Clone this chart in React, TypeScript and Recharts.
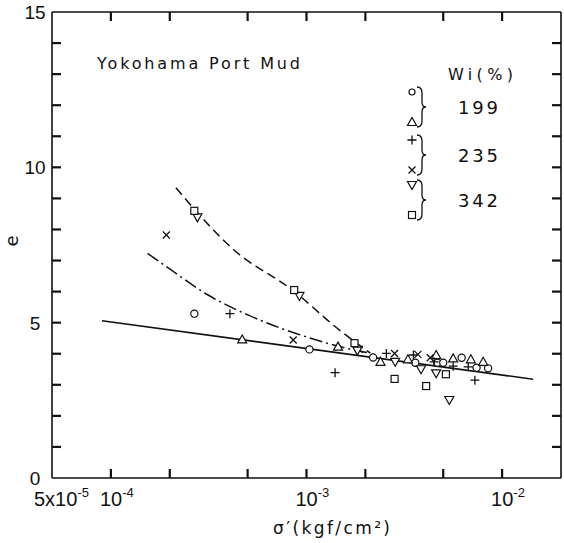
import { ComposedChart, Line, ReferenceLine, Scatter, XAxis, YAxis } from "recharts";

type Pt = { x: number; y: number };

// Wi = 199 %
const circleData: Pt[] = [
  { x: 2.67e-4, y: 5.29 }, { x: 1.035e-3, y: 4.14 }, { x: 2.19e-3, y: 3.88 }, { x: 3.6e-3, y: 3.71 },
  { x: 4.67e-3, y: 3.71 }, { x: 5.0e-3, y: 3.71 }, { x: 6.21e-3, y: 3.87 }, { x: 7.4e-3, y: 3.55 },
  { x: 8.48e-3, y: 3.53 },
];
const triangleData: Pt[] = [
  { x: 4.69e-4, y: 4.46 }, { x: 1.45e-3, y: 4.23 }, { x: 2.39e-3, y: 3.74 }, { x: 3.3e-3, y: 3.82 },
  { x: 4.6e-3, y: 3.96 }, { x: 5.62e-3, y: 3.85 }, { x: 6.92e-3, y: 3.82 }, { x: 8.0e-3, y: 3.74 },
];
// Wi = 235 %
const plusData: Pt[] = [
  { x: 4.06e-4, y: 5.29 }, { x: 1.4e-3, y: 3.39 }, { x: 2.56e-3, y: 4.01 }, { x: 3.52e-3, y: 3.96 },
  { x: 4.49e-3, y: 3.74 }, { x: 5.62e-3, y: 3.6 }, { x: 6.71e-3, y: 3.58 }, { x: 7.26e-3, y: 3.15 },
];
const crossData: Pt[] = [
  { x: 1.92e-4, y: 7.82 }, { x: 8.55e-4, y: 4.44 }, { x: 1.86e-3, y: 4.14 }, { x: 2.82e-3, y: 4.01 },
  { x: 3.71e-3, y: 3.98 }, { x: 4.29e-3, y: 3.87 },
];
// Wi = 342 %
const triDownData: Pt[] = [
  { x: 2.77e-4, y: 8.39 }, { x: 9.2e-4, y: 5.86 }, { x: 1.82e-3, y: 4.1 }, { x: 2.84e-3, y: 3.74 },
  { x: 3.85e-3, y: 3.5 }, { x: 4.6e-3, y: 3.37 }, { x: 5.37e-3, y: 2.51 },
];
const squareData: Pt[] = [
  { x: 2.67e-4, y: 8.6 }, { x: 8.65e-4, y: 6.05 }, { x: 1.76e-3, y: 4.34 }, { x: 2.82e-3, y: 3.19 },
  { x: 4.09e-3, y: 2.96 }, { x: 5.16e-3, y: 3.34 },
];

// fitted curves
const solidLine: Pt[] = [{ x: 9e-5, y: 5.06 }, { x: 1.44e-2, y: 3.18 }];
const dashDotLine: Pt[] = [
  { x: 1.54e-4, y: 7.23 }, { x: 2.04e-4, y: 6.69 }, { x: 3.14e-4, y: 5.89 }, { x: 5.01e-4, y: 5.25 },
  { x: 7.4e-4, y: 4.82 }, { x: 1.05e-3, y: 4.5 }, { x: 1.61e-3, y: 4.17 }, { x: 2.12e-3, y: 4.02 },
];
const dashedLine: Pt[] = [
  { x: 2.15e-4, y: 9.34 }, { x: 4.26e-4, y: 7.34 }, { x: 8.6e-4, y: 6.02 }, { x: 1.41e-3, y: 4.86 },
  { x: 2.12e-3, y: 4.02 },
];

const X_MIN = 5e-5;
const X_MAX = 2e-2;
const Y_MIN = 0;
const Y_MAX = 15;
const xTicks = [5e-5, 1e-4, 2e-4, 5e-4, 1e-3, 2e-3, 5e-3, 1e-2];
const xTickBase = ["5x10", "10", "", "", "10", "", "", "10"];
const xTickExp = ["-5", "-4", "", "", "-3", "", "", "-2"];
const yTicks = [0, 1, 2, 3, 4, 5, 6, 7, 8, 9, 10, 11, 12, 13, 14, 15];
const yLabels = [0, 5, 10, 15];

const legendGroups = ["199", "235", "342"];

const INK = "#111";
const FONT = "'DejaVu Sans', Verdana, sans-serif";
const NUM_FONT = "'Liberation Sans', Arial, sans-serif";
const PLOT_W = 509;
const PLOT_H = 466;
const TL = 9;
const TW = 2.2;
const TS = 10; // tickSize given to the axes; the tick props sit this far from the axis line

function BottomTick(props: any) {
  const { x, y, index } = props;
  const ay = y - TS;
  const base = xTickBase[index];
  const first = index === 0;
  return (
    <g>
      {!first && <line x1={x} x2={x} y1={ay} y2={ay - TL} stroke={INK} strokeWidth={TW} />}
      {!first && <line x1={x} x2={x} y1={ay - PLOT_H} y2={ay - PLOT_H + TL} stroke={INK} strokeWidth={TW} />}
      {base && (
        <text x={first ? x - 18 : x - 11} y={ay + 28} fontSize={20} fontFamily={NUM_FONT} fill={INK}>
          {base}
          <tspan dy={-9} fontSize={13}>{xTickExp[index]}</tspan>
        </text>
      )}
    </g>
  );
}

function LeftTick(props: any) {
  const { x, y, payload } = props;
  const ax = x + TS;
  const v = payload.value;
  const edge = v === Y_MIN || v === Y_MAX;
  return (
    <g>
      {!edge && <line x1={ax} x2={ax + TL} y1={y} y2={y} stroke={INK} strokeWidth={TW} />}
      {!edge && <line x1={ax + PLOT_W} x2={ax + PLOT_W - TL} y1={y} y2={y} stroke={INK} strokeWidth={TW} />}
      {yLabels.includes(v) && (
        <text x={ax - 17} y={y + 7} textAnchor="middle" fontSize={19} fontFamily={NUM_FONT} fill={INK}>
          {v}
        </text>
      )}
    </g>
  );
}

const mk = { fill: "#fff", stroke: INK, strokeWidth: 1.2 };

const CircleMark = (p: any) => <circle cx={p.cx} cy={p.cy} r={p.s ? 3 : 3.6} {...mk} />;
const TriMark = (p: any) => (
  <polygon points={`${p.cx},${p.cy - 4.5} ${p.cx - 4.5},${p.cy + 3.5} ${p.cx + 4.5},${p.cy + 3.5}`} {...mk} />
);
const TriDownMark = (p: any) => (
  <polygon points={`${p.cx},${p.cy + 4.5} ${p.cx - 4.5},${p.cy - 3.5} ${p.cx + 4.5},${p.cy - 3.5}`} {...mk} />
);
const SquareMark = (p: any) => <rect x={p.cx - 3.5} y={p.cy - 3.5} width={7} height={7} {...mk} />;
const PlusMark = (p: any) => (
  <path d={`M${p.cx - 4.5},${p.cy}H${p.cx + 4.5}M${p.cx},${p.cy - 4.5}V${p.cy + 4.5}`} stroke={INK} strokeWidth={1.3} />
);
const CrossMark = (p: any) => (
  <path
    d={`M${p.cx - 3.5},${p.cy - 3.5}L${p.cx + 3.5},${p.cy + 3.5}M${p.cx - 3.5},${p.cy + 3.5}L${p.cx + 3.5},${p.cy - 3.5}`}
    stroke={INK}
    strokeWidth={1.3}
  />
);

function Brace({ x, y1, y2 }: { x: number; y1: number; y2: number }) {
  const m = (y1 + y2) / 2;
  return (
    <path
      d={`M${x},${y1} Q${x + 5},${y1} ${x + 5},${y1 + 6} L${x + 5},${m - 5} Q${x + 5},${m} ${x + 9},${m} Q${x + 5},${m} ${x + 5},${m + 5} L${x + 5},${y2 - 6} Q${x + 5},${y2} ${x},${y2}`}
      fill="none"
      stroke={INK}
      strokeWidth={1.3}
    />
  );
}

function Overlay() {
  const groupY = [92, 140, 185];
  return (
    <svg width={564} height={543} style={{ position: "absolute", left: 0, top: 0, pointerEvents: "none" }}>
      <text x={97} y={69} fontSize={16} fontFamily={FONT} fill={INK} textLength={203} lengthAdjust="spacing">
        Yokohama Port Mud
      </text>
      <text x={448} y={80} fontSize={16} fontFamily={FONT} fill={INK} textLength={65} lengthAdjust="spacing">
        Wi(%)
      </text>
      <CircleMark cx={412} cy={92} s />
      <TriMark cx={412} cy={122} />
      <PlusMark cx={412} cy={140} />
      <CrossMark cx={412} cy={170} />
      <TriDownMark cx={412} cy={185} />
      <SquareMark cx={412} cy={215} />
      {legendGroups.map((g, i) => (
        <g key={g}>
          <Brace x={417} y1={groupY[i] - 5} y2={groupY[i] + 35} />
          <text x={458} y={groupY[i] + 22} fontSize={18} fontFamily={FONT} fill={INK} textLength={40} lengthAdjust="spacing">
            {g}
          </text>
        </g>
      ))}
      <text x={273} y={534} fontSize={17} fontFamily={FONT} fill={INK} textLength={117} lengthAdjust="spacing">
        σ′(kgf/cm²)
      </text>
      <text x={18} y={241} fontSize={18} fontFamily={FONT} fill={INK} textAnchor="middle" transform="rotate(-90 18 241)">
        e
      </text>
    </svg>
  );
}

const axisLine = { stroke: INK, strokeWidth: 1.6 };

export default function App() {
  return (
    <div style={{ position: "absolute", left: 0, top: 0, width: 564, height: 543, background: "#fff" }}>
      <ComposedChart width={564} height={543} margin={{ top: 12, right: 3, bottom: 0, left: 0 }}>
        <XAxis
          dataKey="x"
          type="number"
          scale="log"
          domain={[X_MIN, X_MAX]}
          allowDataOverflow
          ticks={xTicks}
          tick={<BottomTick />}
          tickLine={false}
          axisLine={axisLine}
          tickSize={TS}
          tickMargin={0}
          height={65}
          interval={0}
        />
        <YAxis
          dataKey="y"
          type="number"
          domain={[Y_MIN, Y_MAX]}
          ticks={yTicks}
          tick={<LeftTick />}
          tickLine={false}
          axisLine={axisLine}
          tickSize={TS}
          tickMargin={0}
          width={52}
          interval={0}
        />
        <ReferenceLine y={Y_MAX} stroke={INK} strokeWidth={1.6} ifOverflow="visible" />
        <ReferenceLine x={X_MAX} stroke={INK} strokeWidth={1.6} ifOverflow="visible" />
        <Line data={solidLine} dataKey="y" type="linear" stroke={INK} strokeWidth={1.6} dot={false} isAnimationActive={false} />
        <Line data={dashDotLine} dataKey="y" type="monotone" stroke={INK} strokeWidth={1.5} strokeDasharray="13 4 2 4" dot={false} isAnimationActive={false} />
        <Line data={dashedLine} dataKey="y" type="monotone" stroke={INK} strokeWidth={1.5} strokeDasharray="9 5" dot={false} isAnimationActive={false} />
        <Scatter data={circleData} shape={<CircleMark />} isAnimationActive={false} />
        <Scatter data={triangleData} shape={<TriMark />} isAnimationActive={false} />
        <Scatter data={plusData} shape={<PlusMark />} isAnimationActive={false} />
        <Scatter data={crossData} shape={<CrossMark />} isAnimationActive={false} />
        <Scatter data={triDownData} shape={<TriDownMark />} isAnimationActive={false} />
        <Scatter data={squareData} shape={<SquareMark />} isAnimationActive={false} />
      </ComposedChart>
      <Overlay />
    </div>
  );
}
